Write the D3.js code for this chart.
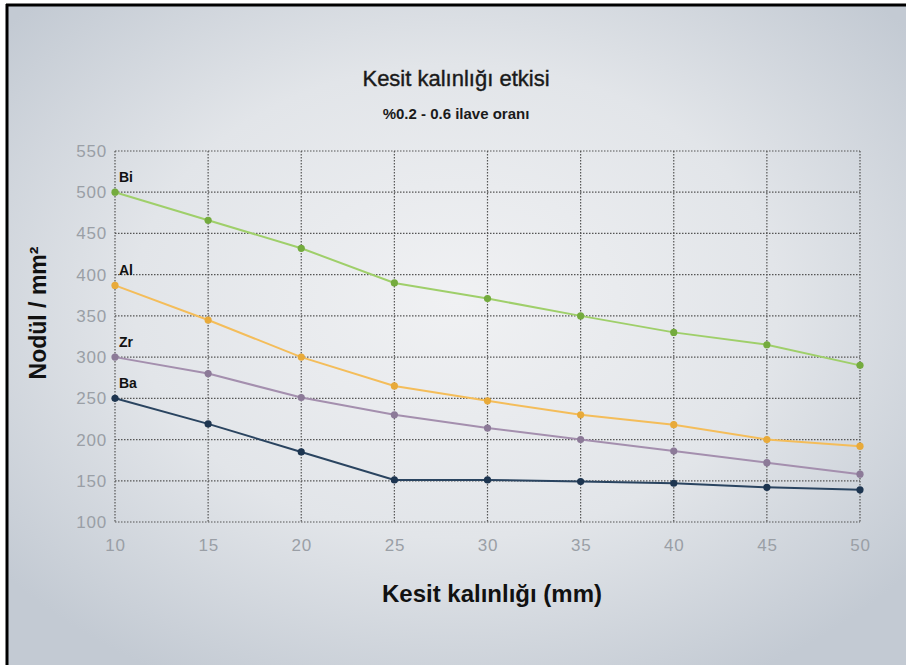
<!DOCTYPE html>
<html>
<head>
<meta charset="utf-8">
<script src="https://cdn.jsdelivr.net/npm/d3@7"></script>
<style>
  body { margin: 0; background: #fff; }
  svg { display: block; }
</style>
</head>
<body>
<svg id="chart" width="906" height="665"></svg>
<script>
// data
let thickness = [10, 15, 20, 25, 30, 35, 40, 45, 50];
let yTicks = [100, 150, 200, 250, 300, 350, 400, 450, 500, 550];
let biValues = [500, 466, 432, 390, 371, 350, 330, 315, 290];
let alValues = [387, 345, 300, 265, 247, 230, 218, 200, 192];
let zrValues = [300, 280, 251, 230, 214, 200, 186, 172, 158];
let baValues = [250, 219, 185, 151, 151, 149, 147, 142, 139];
let seriesNames = ["Bi", "Al", "Zr", "Ba"];

let series = [
  { name: seriesNames[0], values: biValues, line: "#9fcf6a", dot: "#74ab3e" },
  { name: seriesNames[1], values: alValues, line: "#f4bd5a", dot: "#e8aa3a" },
  { name: seriesNames[2], values: zrValues, line: "#a48fae", dot: "#8c7a98" },
  { name: seriesNames[3], values: baValues, line: "#2a4460", dot: "#1d3550" }
];

let svg = d3.select("#chart");

// background
let defs = svg.append("defs");
let grad = defs.append("radialGradient")
  .attr("id", "bg")
  .attr("cx", "50%").attr("cy", "45%").attr("r", "65%");
grad.append("stop").attr("offset", "0%").attr("stop-color", "#f0f1f3");
grad.append("stop").attr("offset", "55%").attr("stop-color", "#e2e5e9");
grad.append("stop").attr("offset", "100%").attr("stop-color", "#c3cad3");

svg.append("rect")
  .attr("x", 6).attr("y", 4)
  .attr("width", 900).attr("height", 661)
  .attr("fill", "url(#bg)");
svg.append("line").attr("x1", 6).attr("x2", 906).attr("y1", 5).attr("y2", 5)
  .attr("stroke", "#000").attr("stroke-width", 3);
svg.append("line").attr("x1", 7).attr("x2", 7).attr("y1", 4).attr("y2", 665)
  .attr("stroke", "#000").attr("stroke-width", 3);

// scales
let x = d3.scaleLinear().domain([10, 50]).range([115, 860]);
let y = d3.scaleLinear().domain([100, 550]).range([522, 151]);

// grid
let grid = svg.append("g");
grid.selectAll(".hgrid")
  .data(yTicks)
  .enter()
  .append("line")
  .attr("x1", x(10)).attr("x2", x(50))
  .attr("y1", d => y(d)).attr("y2", d => y(d))
  .attr("stroke", "#555").attr("stroke-width", 1.2)
  .attr("stroke-dasharray", "1.5,1.5");
grid.selectAll(".vgrid")
  .data(thickness)
  .enter()
  .append("line")
  .attr("x1", d => x(d)).attr("x2", d => x(d))
  .attr("y1", y(550)).attr("y2", y(100))
  .attr("stroke", "#555").attr("stroke-width", 1.2)
  .attr("stroke-dasharray", "1.5,1.5");

// axes (labels only)
let xAxis = d3.axisBottom(x).tickValues(thickness).tickSize(0).tickPadding(17);
let yAxis = d3.axisLeft(y).tickValues(yTicks).tickSize(0).tickPadding(8);

let gx = svg.append("g").attr("transform", `translate(0, ${y(100)})`).call(xAxis);
let gy = svg.append("g").attr("transform", `translate(${x(10)}, 0)`).call(yAxis);
[gx, gy].forEach(g => {
  g.select(".domain").remove();
  g.selectAll("text")
    .attr("fill", "#9a9fa6")
    .attr("font-family", "Liberation Sans, Arial, sans-serif")
    .attr("font-size", 17)
    .attr("letter-spacing", "0.8px");
});

// lines + points
let line = d3.line()
  .x((d, i) => x(thickness[i]))
  .y(d => y(d));

series.forEach(s => {
  svg.append("path")
    .datum(s.values)
    .attr("fill", "none")
    .attr("stroke", s.line)
    .attr("stroke-width", 2)
    .attr("d", line);
  svg.selectAll(".pt-" + s.name)
    .data(s.values)
    .enter()
    .append("circle")
    .attr("cx", (d, i) => x(thickness[i]))
    .attr("cy", d => y(d))
    .attr("r", 3.6)
    .attr("fill", s.dot);
  svg.append("text")
    .attr("x", x(10) + 4)
    .attr("y", y(s.values[0]) - 10)
    .attr("font-family", "Liberation Sans, Arial, sans-serif")
    .attr("font-weight", "bold")
    .attr("font-size", 14)
    .attr("fill", "#111")
    .text(s.name);
});

// titles
svg.append("text")
  .attr("x", 456).attr("y", 86)
  .attr("text-anchor", "middle")
  .attr("font-family", "Liberation Sans Narrow, Liberation Sans, Arial, sans-serif")
  .attr("font-size", 22)
  .attr("fill", "#1a1a1a")
  .attr("stroke", "#1a1a1a").attr("stroke-width", 0.4)
  .text("Kesit kalınlığı etkisi");

svg.append("text")
  .attr("x", 456).attr("y", 119)
  .attr("text-anchor", "middle")
  .attr("font-family", "Liberation Sans Narrow, Liberation Sans, Arial, sans-serif")
  .attr("font-weight", "bold")
  .attr("font-size", 15)
  .attr("fill", "#1a1a1a")
  .text("%0.2 - 0.6 ilave oranı");

svg.append("text")
  .attr("x", 492).attr("y", 602)
  .attr("text-anchor", "middle")
  .attr("font-family", "Liberation Sans, Arial, sans-serif")
  .attr("font-weight", "bold")
  .attr("font-size", 24)
  .attr("fill", "#111")
  .text("Kesit kalınlığı (mm)");

svg.append("text")
  .attr("transform", "translate(46, 313) rotate(-90)")
  .attr("text-anchor", "middle")
  .attr("font-family", "Liberation Sans, Arial, sans-serif")
  .attr("font-weight", "bold")
  .attr("font-size", 23)
  .attr("fill", "#111")
  .text("Nodül / mm²");
</script>
</body>
</html>
